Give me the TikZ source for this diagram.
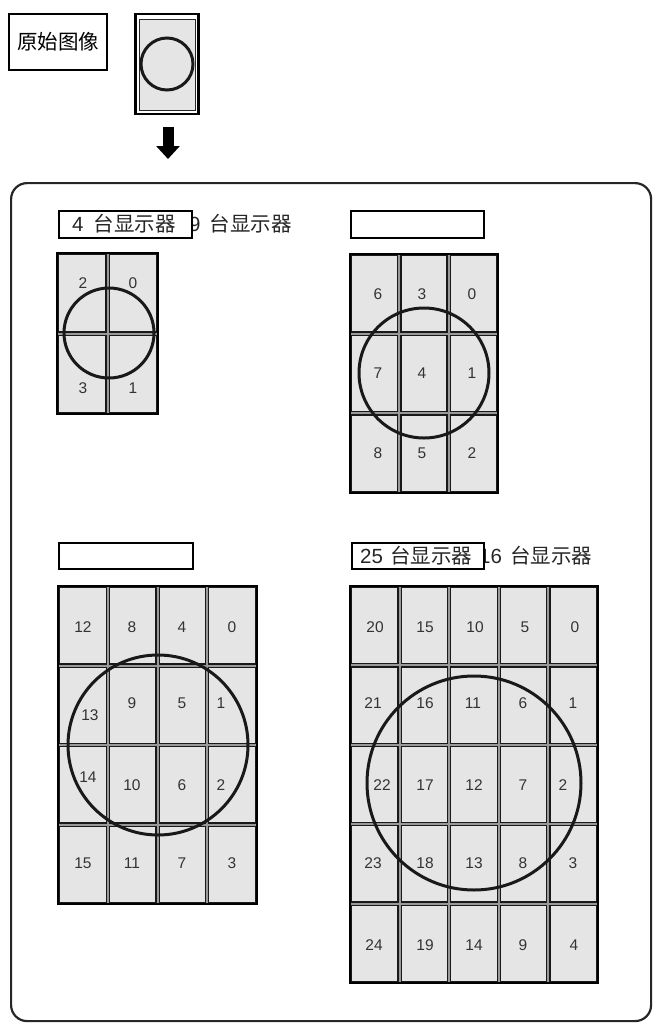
\documentclass[tikz,border=0pt]{standalone}
\usepackage{fontspec}
\setmainfont{Liberation Sans}
\newfontfamily\cjk{Noto Sans CJK SC}
\usetikzlibrary{arrows.meta}
\begin{document}
\begin{tikzpicture}[x=1pt,y=-1pt,
  framebox/.style={draw=black!85,line width=2.2pt,rounded corners=16pt,inner sep=0pt},
  lblbox/.style={draw=black,line width=2pt,fill=white,inner sep=0pt,anchor=north west},
  lbl/.style={font=\fontsize{20.5}{21}\selectfont,inner sep=0pt,anchor=west,text=black!85},
  num/.style={font=\fontsize{15.5}{16}\selectfont,inner sep=0pt,text=black!80},
  cellbox/.style={draw=black!90,line width=1.2pt,fill=black!10},
  gap/.style={fill=black!40},
  gridborder/.style={draw=black,line width=2.6pt},
  ring/.style={draw=black!90,line width=3pt},
  bigarrow/.style={line width=11pt,-{Triangle[width=23pt,length=13pt]}}
]
\useasboundingbox (0,0) rectangle (654,1026);

% outer frame
\node[framebox,anchor=north west,minimum width=640pt,minimum height=838pt] (frame) at (10,182) {};

% original image
\node[draw=black,line width=2pt,inner sep=0pt,minimum width=98pt,minimum height=56pt] (origlbl) at (58,42)
  {\fontsize{20.5}{21}\selectfont\cjk 原始图像};
\node[draw=black,line width=2.4pt,fill=white,inner sep=0pt,minimum width=63pt,minimum height=100pt] (orig) at (167,64) {};
\draw[draw=black!85,line width=1pt,fill=black!10] (139,19) rectangle (195,110);
\draw[ring] (167,64) circle (26);

% arrow
\coordinate (a1) at (168,127);
\coordinate (a2) at (168,159);
\draw[bigarrow] (a1) -- (a2);

% ---------- labels ----------
\node[lbl] (lab9) at (189,224) {9\hspace{9pt}{\cjk 台显示器}};
\node[lblbox,minimum width=133pt,minimum height=27pt] (lab4box) at (58,210) {};
\node[lbl] (lab4) at (72,224) {4\hspace{10pt}{\cjk 台显示器}};

\node[lblbox,minimum width=133pt,minimum height=27pt] (labAbox) at (350,210) {};
\node[lblbox,minimum width=134pt,minimum height=26pt] (labBbox) at (58,542) {};

\node[lbl] (lab16) at (479,556) {16\hspace{8pt}{\cjk 台显示器}};
\node[lblbox,minimum width=132pt,minimum height=26pt] (lab25box) at (351,542) {};
\node[lbl] (lab25) at (360,556) {25\hspace{7pt}{\cjk 台显示器}};

% ---------- grid 2x2 ----------
\def\X{57}\def\Y{253}\def\cw{50.5}\def\ch{80.5}
\fill[gap] (\X,\Y) rectangle ({\X+2*\cw},{\Y+2*\ch});
\foreach \i in {0,1}{\foreach \j in {0,1}{
  \draw[cellbox] ({\X+\i*\cw+1.6},{\Y+\j*\ch+1.6}) rectangle ({\X+(\i+1)*\cw-1.6},{\Y+(\j+1)*\ch-1.6});}}
\draw[gridborder] (\X,\Y) rectangle ({\X+2*\cw},{\Y+2*\ch});
\draw[ring] (109,333) circle (45);
\node[num] (a-2) at (83,283) {2};
\node[num] (a-0) at (133,283) {0};
\node[num] (a-3) at (83,388) {3};
\node[num] (a-1) at (133,388) {1};

% ---------- grid 3x3 ----------
\def\X{350}\def\Y{254}\def\cw{49.33}\def\ch{79.67}
\fill[gap] (\X,\Y) rectangle ({\X+3*\cw},{\Y+3*\ch});
\foreach \i in {0,1,2}{\foreach \j in {0,1,2}{
  \draw[cellbox] ({\X+\i*\cw+1.6},{\Y+\j*\ch+1.6}) rectangle ({\X+(\i+1)*\cw-1.6},{\Y+(\j+1)*\ch-1.6});}}
\draw[gridborder] (\X,\Y) rectangle ({\X+3*\cw},{\Y+3*\ch});
\draw[ring] (424,373) circle (65);
\node[num] (b-6) at (378,294) {6};
\node[num] (b-3) at (422,294) {3};
\node[num] (b-0) at (472,294) {0};
\node[num] (b-7) at (378,373) {7};
\node[num] (b-4) at (422,373) {4};
\node[num] (b-1) at (472,373) {1};
\node[num] (b-8) at (378,453) {8};
\node[num] (b-5) at (422,453) {5};
\node[num] (b-2) at (472,453) {2};

% ---------- grid 4x4 ----------
\def\X{58}\def\Y{586}\def\cw{49.75}\def\ch{79.5}
\fill[gap] (\X,\Y) rectangle ({\X+4*\cw},{\Y+4*\ch});
\foreach \i in {0,1,2,3}{\foreach \j in {0,1,2,3}{
  \draw[cellbox] ({\X+\i*\cw+1.6},{\Y+\j*\ch+1.6}) rectangle ({\X+(\i+1)*\cw-1.6},{\Y+(\j+1)*\ch-1.6});}}
\draw[gridborder] (\X,\Y) rectangle ({\X+4*\cw},{\Y+4*\ch});
\draw[ring] (158,745) circle (90);
\node[num] (c-12) at (83,627) {12};
\node[num] (c-8) at (132,627) {8};
\node[num] (c-4) at (182,627) {4};
\node[num] (c-0) at (232,627) {0};
\node[num] (c-13) at (90,715) {13};
\node[num] (c-9) at (132,703) {9};
\node[num] (c-5) at (182,703) {5};
\node[num] (c-1) at (221,703) {1};
\node[num] (c-14) at (88,777) {14};
\node[num] (c-10) at (132,785) {10};
\node[num] (c-6) at (182,785) {6};
\node[num] (c-2) at (221,785) {2};
\node[num] (c-15) at (83,863) {15};
\node[num] (c-11) at (132,863) {11};
\node[num] (c-7) at (182,863) {7};
\node[num] (c-3) at (232,863) {3};

% ---------- grid 5x5 ----------
\def\X{350}\def\Y{586}\def\cw{49.6}\def\ch{79.4}
\fill[gap] (\X,\Y) rectangle ({\X+5*\cw},{\Y+5*\ch});
\foreach \i in {0,...,4}{\foreach \j in {0,...,4}{
  \draw[cellbox] ({\X+\i*\cw+1.6},{\Y+\j*\ch+1.6}) rectangle ({\X+(\i+1)*\cw-1.6},{\Y+(\j+1)*\ch-1.6});}}
\draw[gridborder] (\X,\Y) rectangle ({\X+5*\cw},{\Y+5*\ch});
\draw[ring] (474,783) circle (107);
\node[num] (d-20) at (375,627) {20};
\node[num] (d-15) at (425,627) {15};
\node[num] (d-10) at (475,627) {10};
\node[num] (d-5) at (525,627) {5};
\node[num] (d-0) at (575,627) {0};
\node[num] (d-21) at (373,703) {21};
\node[num] (d-16) at (425,703) {16};
\node[num] (d-11) at (473,703) {11};
\node[num] (d-6) at (523,703) {6};
\node[num] (d-1) at (573,703) {1};
\node[num] (d-22) at (382,785) {22};
\node[num] (d-17) at (425,785) {17};
\node[num] (d-12) at (474,785) {12};
\node[num] (d-7) at (523,785) {7};
\node[num] (d-2) at (563,785) {2};
\node[num] (d-23) at (373,863) {23};
\node[num] (d-18) at (425,863) {18};
\node[num] (d-13) at (474,863) {13};
\node[num] (d-8) at (523,863) {8};
\node[num] (d-3) at (573,863) {3};
\node[num] (d-24) at (374,945) {24};
\node[num] (d-19) at (425,945) {19};
\node[num] (d-14) at (474,945) {14};
\node[num] (d-9) at (523,945) {9};
\node[num] (d-4) at (574,945) {4};
\end{tikzpicture}
\end{document}
